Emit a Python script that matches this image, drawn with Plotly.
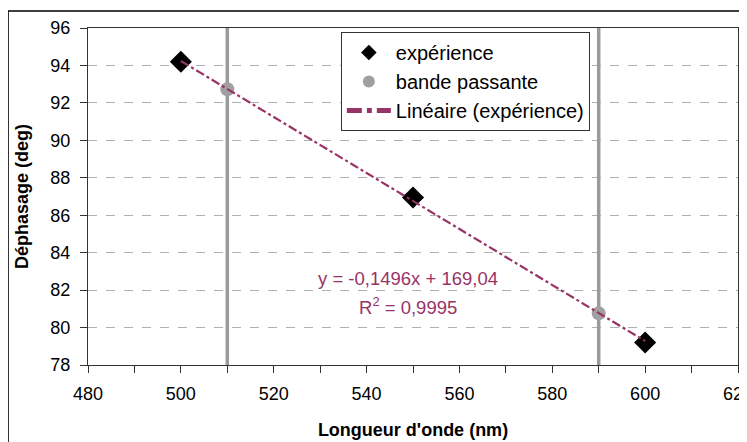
import plotly.graph_objects as go

# Data
exp_x = [500, 550, 600]
exp_y = [94.2, 86.95, 79.2]
band_x = [510, 590]
band_y = [92.73, 80.76]
slope = -0.1496
intercept = 169.04
fit_x = [500, 600]
fit_y = [slope * x + intercept for x in fit_x]
eq_text = "y = -0,1496x + 169,04"
r2_text = "R<sup>2</sup> = 0,9995"
x_range = [480, 620]
y_range = [78, 96]

FONT = "Arial, Liberation Sans, sans-serif"
PLUM = "#993366"

fig = go.Figure()

# vertical band limits
for bx in band_x:
    fig.add_trace(go.Scatter(x=[bx, bx], y=y_range, mode="lines",
                             line=dict(color="#9a9a9a", width=3.5),
                             showlegend=False, hoverinfo="skip"))

fig.add_trace(go.Scatter(x=exp_x, y=exp_y, mode="markers", name="expérience",
                         marker=dict(symbol="diamond", color="black", size=17,
                                     line=dict(width=0))))
fig.add_trace(go.Scatter(x=band_x, y=band_y, mode="markers", name="bande passante",
                         marker=dict(symbol="circle", color="#a0a0a0", size=14,
                                     line=dict(width=0))))
fig.add_trace(go.Scatter(x=fit_x, y=fit_y, mode="lines", name="Linéaire (expérience)",
                         line=dict(color=PLUM, width=2.2, dash="dashdot")))

annotations = [
    dict(x=549, y=82.6, xref="x", yref="y", text=eq_text, showarrow=False,
         font=dict(family=FONT, size=18.5, color=PLUM)),
    dict(x=549, y=81.15, xref="x", yref="y", text=r2_text, showarrow=False,
         font=dict(family=FONT, size=18.5, color=PLUM)),
]

# page body has an 8px margin: figure sized so it fits the 747x442 window
fig.update_layout(
    width=739, height=434,
    margin=dict(l=80, r=9, t=20, b=77),
    paper_bgcolor="white", plot_bgcolor="white",
    font=dict(family=FONT, size=18, color="black"),
    showlegend=True,
    annotations=annotations,
    legend=dict(x=0.389, y=0.988, xanchor="left", yanchor="top",
                bgcolor="white", bordercolor="#333333", borderwidth=1,
                font=dict(family=FONT, size=20, color="black"),
                tracegroupgap=0, itemwidth=44, itemsizing="constant"),
    xaxis=dict(range=x_range, dtick=20, tick0=480, showgrid=False,
               ticks="outside", ticklen=7, tickcolor="#333333",
               minor=dict(dtick=10, ticks="outside", ticklen=7, tickcolor="#333333"),
               showline=True, linecolor="#333333", linewidth=1, mirror=True,
               zeroline=False, ticklabeloverflow="allow", ticklabelstandoff=5,
               automargin=False,
               tickfont=dict(family=FONT, size=18),
               title=dict(text="<b>Longueur d'onde (nm)</b>", standoff=20,
                          font=dict(family=FONT, size=18))),
    yaxis=dict(range=y_range, dtick=2, showgrid=True, gridcolor="#b0b0b0",
               griddash="dash", gridwidth=1,
               ticks="outside", ticklen=7, tickcolor="#333333",
               showline=True, linecolor="#333333", linewidth=1, mirror=True,
               zeroline=False, ticklabelstandoff=6, automargin=False,
               tickfont=dict(family=FONT, size=18),
               title=dict(text="<b>Déphasage (deg)</b>", standoff=17,
                          font=dict(family=FONT, size=18))),
    shapes=[dict(type="rect", xref="paper", yref="paper",
                 x0=-0.123, x1=1.2, y0=-0.5, y1=1.0504,
                 line=dict(color="black", width=1.5), layer="below")],
)

fig.write_html("out.html")
